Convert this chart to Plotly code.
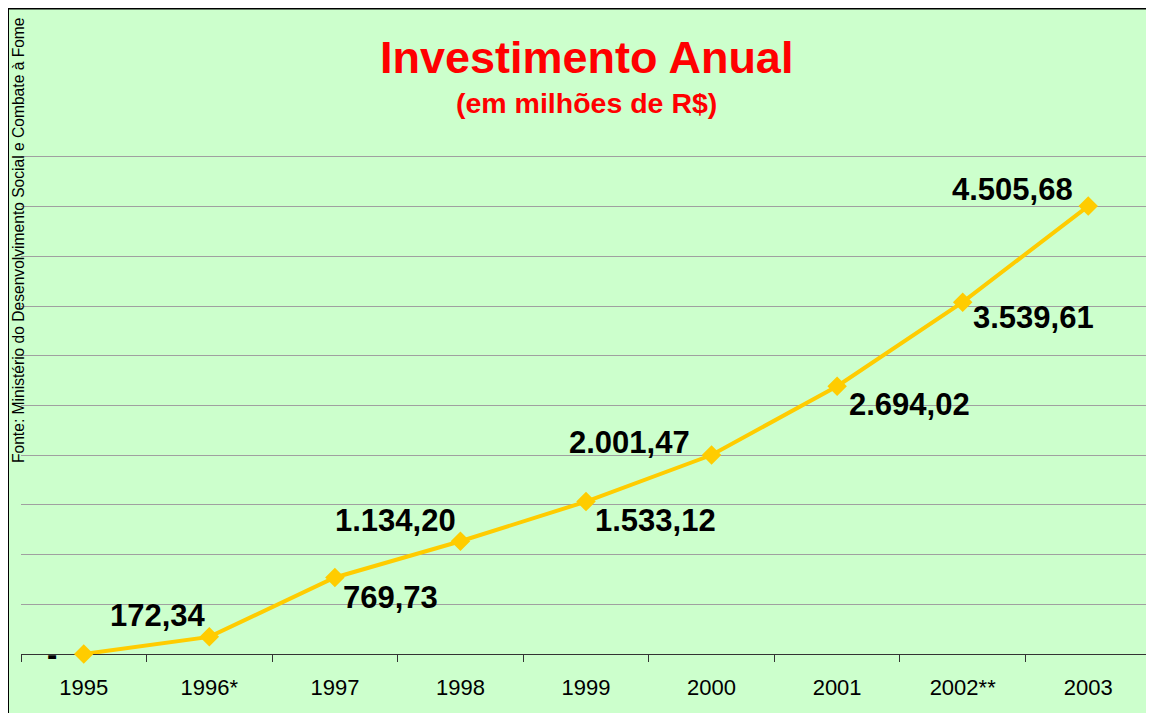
import plotly.graph_objects as go

# ---- data ----
years = ["1995", "1996*", "1997", "1998", "1999", "2000", "2001", "2002**", "2003"]
investment = [0, 172.34, 769.73, 1134.20, 1533.12, 2001.47, 2694.02, 3539.61, 4505.68]
# label offsets (pixels, dx right, dy down) relative to each point
label_dx = [-32, -51, 56, -65, 69, -82, 72, 71, -76]
label_dy = [0, -21, 20, -21, 19, -13, 18, 15, -17]

title_text = "Investimento Anual"
subtitle_text = "(em milhões de R$)"
source_text = "Fonte: Ministério do Desenvolvimento Social e Combate à Fome"


def fmt_br(v):
    if v == 0:
        return "-"
    s = f"{v:,.2f}"
    return s.replace(",", "X").replace(".", ",").replace("X", ".")


# figure sits at page offset (8, 8) because of the default body margin
OFF = 8
W, H = 1146, 705
ML, MR, MT, MB = 13, 3, 147, 59
PW = W - ML - MR
PH = H - MT - MB


def px(xp):  # page pixel -> paper x
    return (xp - OFF - ML) / PW


def py(yp):  # page pixel -> paper y
    return (H - MB - (yp - OFF)) / PH


FONT = "Liberation Sans, Arial, sans-serif"
GREEN = "#CCFFCC"

fig = go.Figure()
fig.add_trace(go.Scatter(
    x=years, y=investment, mode="lines+markers",
    line=dict(color="#FFCC00", width=4),
    marker=dict(symbol="diamond", size=15, color="#FFCC00"),
    cliponaxis=False, hoverinfo="skip", showlegend=False,
))

annotations = []
for i, (v, dx, dy) in enumerate(zip(investment, label_dx, label_dy)):
    annotations.append(dict(
        x=i, y=v, xref="x", yref="y", text=f"<b>{fmt_br(v)}</b>", showarrow=False,
        xanchor="center", yanchor="middle", xshift=dx, yshift=-dy,
        font=dict(family=FONT, size=31, color="black"),
    ))

annotations.append(dict(
    x=px(586), y=py(58), xref="paper", yref="paper", text=f"<b>{title_text}</b>",
    showarrow=False, xanchor="center", yanchor="middle",
    font=dict(family=FONT, size=45, color="#FF0000"),
))
annotations.append(dict(
    x=px(586), y=py(103), xref="paper", yref="paper", text=f"<b>{subtitle_text}</b>",
    showarrow=False, xanchor="center", yanchor="middle",
    font=dict(family=FONT, size=28.5, color="#FF0000"),
))
annotations.append(dict(
    x=px(19), y=py(240), xref="paper", yref="paper", text=source_text,
    showarrow=False, xanchor="center", yanchor="middle", textangle=-90,
    font=dict(family=FONT, size=15.6, color="black"),
))

shapes = [
    dict(type="line", xref="paper", yref="paper", x0=px(8), x1=px(8), y0=py(6), y1=py(730),
         line=dict(color="black", width=2), layer="above"),
    dict(type="line", xref="paper", yref="paper", x0=px(7), x1=px(1170), y0=py(8.5), y1=py(8.5),
         line=dict(color="black", width=2), layer="above"),
]

fig.update_layout(
    width=W, height=H, autosize=False,
    margin=dict(l=ML, r=MR, t=MT, b=MB, pad=0),
    paper_bgcolor=GREEN, plot_bgcolor=GREEN,
    annotations=annotations, shapes=shapes,
    font=dict(family=FONT, color="black"),
    xaxis=dict(
        type="category", categoryorder="array", categoryarray=years,
        range=[-0.5, 8.5], showgrid=False, zeroline=False,
        showline=True, linecolor="#333333", linewidth=1,
        ticks="outside", tickson="boundaries", ticklen=7, tickcolor="#333333", tickwidth=1,
        tickfont=dict(family=FONT, size=22, color="black"),
        ticklabelstandoff=14,
        layer="below traces", fixedrange=True,
    ),
    yaxis=dict(
        range=[0, 5020], dtick=500, tick0=0, showticklabels=False,
        showgrid=True, gridcolor="#A0A0A0", gridwidth=1, zeroline=False,
        showline=False, ticks="", layer="below traces", fixedrange=True,
    ),
)

fig.write_html(
    "out.html",
    post_script=(
        "document.documentElement.style.overflow='hidden';"
        "document.body.style.overflow='hidden';"
    ),
)
